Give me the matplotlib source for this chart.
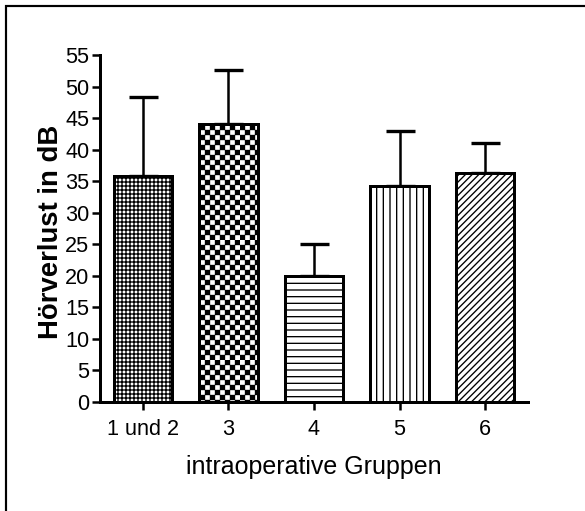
import warnings
import numpy as np
import matplotlib
matplotlib.use("Agg")
import matplotlib.pyplot as plt
import matplotlib.hatch as mhatch
from matplotlib.path import Path
from matplotlib.patches import Rectangle

warnings.filterwarnings("ignore")

# ---- data ----
categories = ["1 und 2", "3", "4", "5", "6"]
means = [35.8, 44.1, 19.9, 34.2, 36.3]
errors = [12.5, 8.6, 5.2, 8.7, 4.7]
y_ticks = [0, 5, 10, 15, 20, 25, 30, 35, 40, 45, 50, 55]
y_label = "Hörverlust in dB"
x_label = "intraoperative Gruppen"


# ---- custom checkerboard hatch ----
class CheckerHatch(mhatch.HatchPatternBase):
    def __init__(self, hatch, density):
        self.n = hatch.count('c') * 24
        self.num_vertices = (self.n * self.n // 2) * 5 if self.n else 0

    def set_vertices_and_codes(self, vertices, codes):
        n = self.n
        s = 1.0 / n
        side = s * 0.8
        off = (s - side) / 2
        k = 0
        for i in range(n):
            for j in range(n):
                if (i + j) % 2 == 0:
                    x0 = i * s + off
                    y0 = j * s + off
                    vertices[k:k + 5] = [[x0, y0], [x0 + side, y0],
                                         [x0 + side, y0 + side],
                                         [x0, y0 + side], [x0, y0]]
                    codes[k] = Path.MOVETO
                    codes[k + 1:k + 4] = Path.LINETO
                    codes[k + 4] = Path.CLOSEPOLY
                    k += 5


mhatch._hatch_types.append(CheckerHatch)

plt.rcParams['font.family'] = ['Liberation Sans', 'DejaVu Sans']
plt.rcParams['hatch.linewidth'] = 0.8
plt.rcParams['hatch.color'] = 'black'

DPI = 120
fig = plt.figure(figsize=(585 / DPI, 511 / DPI), dpi=DPI)
ax = fig.add_axes([100 / 585, 1 - 402 / 511, 428 / 585, 347 / 511])

hatches = ['+++++', 'c', '---', '|||', '//////']
x = np.arange(len(categories))
bars = ax.bar(x, means, width=0.68, color='white', edgecolor='black',
              linewidth=1.8, zorder=2)
for b, h in zip(bars, hatches):
    b.set_hatch(h)

ax.errorbar(x, means, yerr=[np.zeros(len(errors)), errors], fmt='none',
            ecolor='black', elinewidth=1.5, capsize=8.7, capthick=2.0,
            zorder=1)

ax.set_xlim(-0.5, 4.5)
ax.set_ylim(0, 55)
ax.set_yticks(y_ticks)
ax.set_yticklabels([str(v) for v in y_ticks])
ax.set_xticks(x)
ax.set_xticklabels(categories)

for side in ['top', 'right']:
    ax.spines[side].set_visible(False)
for side in ['left', 'bottom']:
    ax.spines[side].set_linewidth(1.8)

ax.tick_params(axis='y', length=5, width=1.5, pad=1.5, labelsize=13)
ax.tick_params(axis='x', length=5, width=1.5, pad=5, labelsize=13)

ax.set_ylabel(y_label, fontsize=16.5, fontweight='bold', labelpad=3)
ax.yaxis.set_label_coords(-0.085, 0.49)
ax.set_xlabel(x_label, fontsize=15, labelpad=9)

# outer frame (partially outside the image)
frame = Rectangle((6 / 585, -0.1), 1.2, 1 - 6 / 511 + 0.1,
                  transform=fig.transFigure, fill=False,
                  edgecolor='black', linewidth=1.3, clip_on=False)
fig.patches.append(frame)

fig.savefig("out.png", dpi=DPI)
